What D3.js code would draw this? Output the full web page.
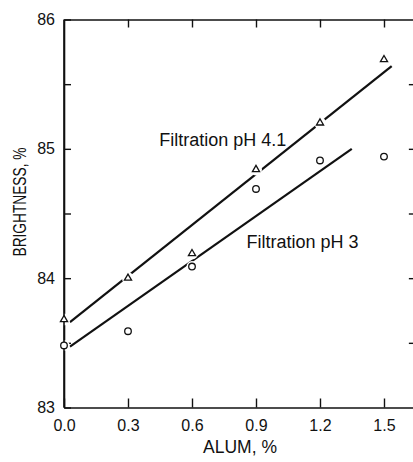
<!DOCTYPE html>
<html>
<head>
<meta charset="utf-8">
<script src="https://cdn.jsdelivr.net/npm/d3@7"></script>
<style>
  html, body { margin: 0; padding: 0; background: #fff; }
  svg { display: block; }
  text { font-family: "Liberation Sans", Arial, Helvetica, sans-serif; fill: #111; }
</style>
</head>
<body>
<svg id="chart" width="413" height="462"></svg>
<script>
// Alum addition (%) and measured brightness (%)
const alum = [0.0, 0.3, 0.6, 0.9, 1.2, 1.5];
const brightnessPH41 = [83.68, 84.0, 84.19, 84.84, 85.2, 85.69];
const brightnessPH3 = [83.48, 83.59, 84.09, 84.69, 84.91, 84.94];

// Fitted lines (endpoints: alum %, brightness %)
const fitPH41 = [[0.028, 83.66], [1.536, 85.64]];
const fitPH3 = [[0.028, 83.47], [1.349, 85.0]];

const xTicks = [0.0, 0.3, 0.6, 0.9, 1.2, 1.5];
const yTicks = [83, 83.5, 84, 84.5, 85, 85.5, 86];

const curveLabels = [
  { text: "Filtration pH 4.1", at: [0.446, 85.02] },
  { text: "Filtration pH 3", at: [0.855, 84.23] }
];

const svg = d3.select("#chart");
const plotLeft = 64, plotTop = 19.5, plotBottom = 407.5;
const pxPerUnit = 213.33;
const xMax = 1.64;

const x = d3.scaleLinear().domain([0, xMax]).range([plotLeft, plotLeft + pxPerUnit * xMax]);
const y = d3.scaleLinear().domain([83, 86]).range([plotBottom, plotTop]);
const plotRight = x(xMax);

const ink = "#111";

// Bottom axis with labels, ticks pointing inward
const gB = svg.append("g").attr("transform", `translate(0,${plotBottom})`)
  .call(d3.axisBottom(x).tickValues(xTicks).tickSizeInner(-9).tickSizeOuter(0)
    .tickPadding(12).tickFormat(d3.format(".1f")));

// Top axis: ticks only
const gT = svg.append("g").attr("transform", `translate(0,${plotTop})`)
  .call(d3.axisTop(x).tickValues(xTicks.slice(1)).tickSizeInner(-8).tickSizeOuter(0)
    .tickFormat(""));

// Left axis: labels on whole units, ticks every half unit
const gL = svg.append("g").attr("transform", `translate(${plotLeft},0)`)
  .call(d3.axisLeft(y).tickValues(yTicks).tickSizeInner(-7).tickSizeOuter(0)
    .tickPadding(9).tickFormat(d => Number.isInteger(d) ? d3.format("d")(d) : ""));

// Right axis: ticks only
const gR = svg.append("g").attr("transform", `translate(${plotRight},0)`)
  .call(d3.axisRight(y).tickValues(yTicks.slice(1, -1)).tickSizeInner(-5).tickSizeOuter(0)
    .tickFormat(""));

[gB, gT, gL, gR].forEach(g => {
  g.attr("font-family", null);
  g.select(".domain").attr("stroke", ink).attr("stroke-width", 1.6);
  g.selectAll(".tick line").attr("stroke", ink).attr("stroke-width", 1.4);
  g.selectAll(".tick text").attr("font-size", 16).attr("fill", ink);
});

// Fitted lines
const line = d3.line().x(d => x(d[0])).y(d => y(d[1]));
[fitPH41, fitPH3].forEach(f => {
  svg.append("path").attr("d", line(f))
    .attr("fill", "none").attr("stroke", ink).attr("stroke-width", 2.2)
    .attr("stroke-linecap", "butt");
});

// White halos so the lines break around the plotted points
const halo = svg.append("g");
alum.forEach((a, i) => {
  halo.append("circle").attr("cx", x(a)).attr("cy", y(brightnessPH41[i])).attr("r", 6).attr("fill", "#fff");
  halo.append("circle").attr("cx", x(a)).attr("cy", y(brightnessPH3[i])).attr("r", 5.5).attr("fill", "#fff");
});
// restore the left frame where halos overlap it
svg.append("line").attr("x1", plotLeft).attr("x2", plotLeft).attr("y1", plotTop).attr("y2", plotBottom)
  .attr("stroke", ink).attr("stroke-width", 1.6);

// Triangles: filtration pH 4.1
svg.append("g").selectAll("path").data(alum).join("path")
  .attr("transform", (a, i) => `translate(${x(a)},${y(brightnessPH41[i])})`)
  .attr("d", d3.symbol(d3.symbolTriangle, 22))
  .attr("fill", "#fff").attr("stroke", ink).attr("stroke-width", 1.3);

// Circles: filtration pH 3
svg.append("g").selectAll("circle").data(alum).join("circle")
  .attr("cx", a => x(a)).attr("cy", (a, i) => y(brightnessPH3[i])).attr("r", 3.3)
  .attr("fill", "#fff").attr("stroke", ink).attr("stroke-width", 1.3);

// Curve labels
svg.append("g").selectAll("text").data(curveLabels).join("text")
  .attr("x", d => x(d.at[0])).attr("y", d => y(d.at[1]))
  .attr("font-size", 18).text(d => d.text);

// Axis titles
svg.append("text").attr("x", 240).attr("y", 453).attr("text-anchor", "middle")
  .attr("font-size", 17.5).text("ALUM, %");

svg.append("text").attr("transform", "translate(25.5,202) rotate(-90)")
  .attr("text-anchor", "middle").attr("font-size", 17.5)
  .attr("textLength", 109).attr("lengthAdjust", "spacingAndGlyphs")
  .text("BRIGHTNESS, %");
</script>
</body>
</html>
